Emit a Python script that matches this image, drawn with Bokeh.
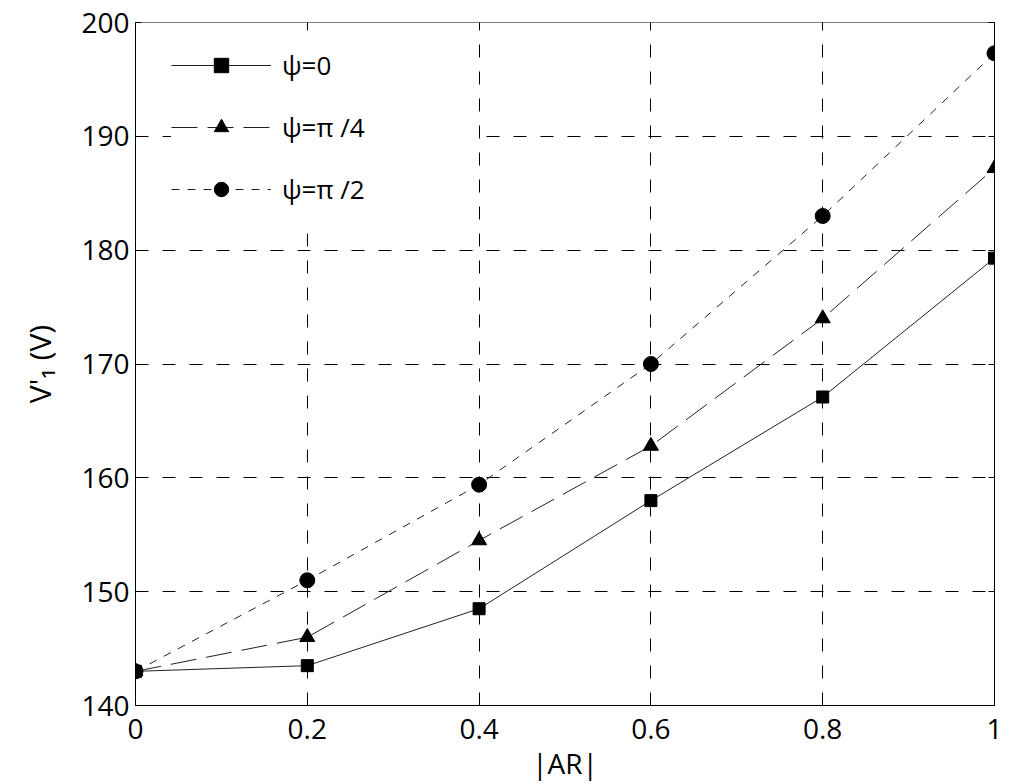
from bokeh.plotting import figure
from bokeh.models import LinearAxis, FixedTicker, Range1d
from bokeh.embed import file_html
from bokeh.resources import INLINE

# ---- data ----
ar = [0.0, 0.2, 0.4, 0.6, 0.8, 1.0]
v_psi0 = [143.0, 143.5, 148.5, 158.0, 167.1, 179.3]
v_psi_pi4 = [143.0, 146.0, 154.5, 162.8, 174.0, 187.2]
v_psi_pi2 = [143.0, 151.0, 159.4, 170.0, 183.0, 197.3]

x_ticks = [0.0, 0.2, 0.4, 0.6, 0.8, 1.0]
x_tick_labels = ["0", "0.2", "0.4", "0.6", "0.8", "1"]
y_ticks = [140, 150, 160, 170, 180, 190, 200]
y_tick_labels = ["140", "150", "160", "170", "180", "190", "200"]

series_labels = ["ψ=0", "ψ=π /4", "ψ=π /2"]
x_label = "|AR|"
y_label = "V'\u2081 (V)"

FONT = "Open Sans"

p = figure(width=1014, height=784, output_backend="svg", toolbar_location=None,
           x_range=Range1d(0, 1), y_range=Range1d(140, 200),
           min_border_left=135, min_border_top=22, min_border_right=20, min_border_bottom=79,
           x_axis_label=x_label, y_axis_label=y_label)
p.outline_line_color = None
p.background_fill_color = "white"

xt = FixedTicker(ticks=x_ticks)
yt = FixedTicker(ticks=y_ticks)

for ax in p.xaxis:
    ax.ticker = xt
    ax.major_label_overrides = {t: l for t, l in zip(x_ticks, x_tick_labels)}
    ax.major_label_standoff = 13
    ax.axis_label_standoff = 2
    ax.axis_label_text_font_size = "28px"
for ax in p.yaxis:
    ax.ticker = yt
    ax.major_label_overrides = {t: l for t, l in zip(y_ticks, y_tick_labels)}
    ax.major_label_standoff = 6
    ax.axis_label_standoff = 18
    ax.axis_label_text_font_size = "30px"

for ax in list(p.xaxis) + list(p.yaxis):
    ax.axis_label_text_font = FONT
    ax.axis_label_text_font_style = "normal"
    ax.axis_label_text_color = "black"
    ax.major_label_text_font = FONT
    ax.major_label_text_font_size = "28px"
    ax.major_label_text_color = "black"
    ax.major_tick_in = 6
    ax.major_tick_out = 0
    ax.minor_tick_line_color = None
    ax.axis_line_color = "black"
    ax.major_tick_line_color = "black"

# mirrored axes (ticks only)
top = LinearAxis(ticker=xt, major_label_text_font_size="0px", major_tick_in=6, major_tick_out=0,
                 minor_tick_line_color=None, axis_line_color="#7f7f7f", major_tick_line_color="black",
                 major_label_standoff=0)
right = LinearAxis(ticker=yt, major_label_text_font_size="0px", major_tick_in=6, major_tick_out=0,
                   minor_tick_line_color=None, axis_line_color="black", major_tick_line_color="black",
                   major_label_standoff=0)
p.add_layout(top, "above")
p.add_layout(right, "right")

p.xgrid.ticker = xt
p.ygrid.ticker = yt
p.xgrid.grid_line_color = "black"
p.ygrid.grid_line_color = "black"
p.xgrid.grid_line_dash = "13 14"
p.ygrid.grid_line_dash = "13 14"
p.xgrid.grid_line_width = 1
p.ygrid.grid_line_width = 1

# series
p.line(ar, v_psi0, line_color="#222222", line_width=1, legend_label=series_labels[0])
p.scatter(ar, v_psi0, marker="square", size=12, color="black", legend_label=series_labels[0])

p.line(ar, v_psi_pi4, line_color="#222222", line_width=1, line_dash="26 10", legend_label=series_labels[1])
p.scatter(ar, v_psi_pi4, marker="triangle", size=15, color="black", legend_label=series_labels[1])

p.line(ar, v_psi_pi2, line_color="#222222", line_width=1, line_dash="8 8", legend_label=series_labels[2])
p.scatter(ar, v_psi_pi2, marker="circle", size=15, color="black", legend_label=series_labels[2])

lg = p.legend[0]
lg.location = (36, 485)
lg.border_line_color = None
lg.background_fill_color = "white"
lg.background_fill_alpha = 1.0
lg.label_text_font = FONT
lg.label_text_font_size = "26px"
lg.label_text_color = "black"
lg.glyph_width = 100
lg.glyph_height = 36
lg.label_height = 62
lg.label_width = 194
lg.label_standoff = 11
lg.padding = 0
lg.spacing = 0
lg.margin = 0

open("out.html", "w").write(file_html(p, INLINE))
